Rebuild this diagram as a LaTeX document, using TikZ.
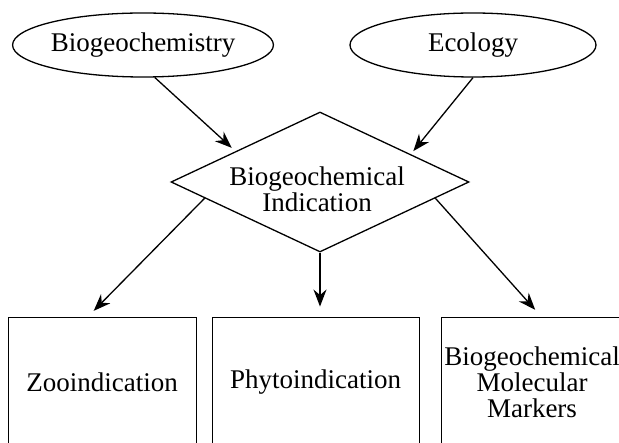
\documentclass[tikz,border=0pt]{standalone}
\usepackage{fontspec}
\setmainfont{Liberation Serif}
\usetikzlibrary{shapes.geometric,arrows.meta}
\begin{document}
\begin{tikzpicture}[x=1pt,y=-1pt,>={Stealth[length=17pt,width=13pt]},
 font=\fontsize{27}{26}\selectfont,
 oval/.style={draw, ellipse, line width=1.3pt, minimum width=246pt, minimum height=64pt, inner sep=0pt},
 rhomb/.style={draw, diamond, line width=1.3pt, minimum width=298pt, minimum height=140pt, inner sep=0pt},
 panel/.style={draw, line width=0.9pt, minimum height=130pt, inner sep=0pt, align=center},
 link/.style={->, line width=1.3pt}]
 \useasboundingbox (0,0) rectangle (619,443);
 \clip (0,0) rectangle (619,443);
 \node[oval] (bio) at (143,45) {Biogeochemistry};
 \node[oval] (eco) at (473,45) {Ecology};
 \node[rhomb, label={[align=center, xshift=-3pt, yshift=-7pt]center:Biogeochemical\\Indication}] (ind) at (320,182) {};
 \node[panel, minimum width=188pt] (zoo) at (102,382) {Zooindication};
 \node[panel, minimum width=207pt] (phy) at (315.5,382) {Phytoindication};
 \node[panel, minimum width=182pt] (mark) at (532,382) {Biogeochemical\\Molecular\\Markers};
 \draw[link, shorten >=5pt] (bio.-70) -- (ind.160);
 \draw[link, shorten >=4pt] (eco.south) -- (ind.17);
 \draw[link, shorten >=8pt] (ind.-172) -- (zoo.102);
 \draw[link, shorten >=10pt] (ind.south) -- (ind.south |- phy.north);
 \draw[link, shorten >=9pt] (ind.-8) -- (mark.82);
\end{tikzpicture}
\end{document}
